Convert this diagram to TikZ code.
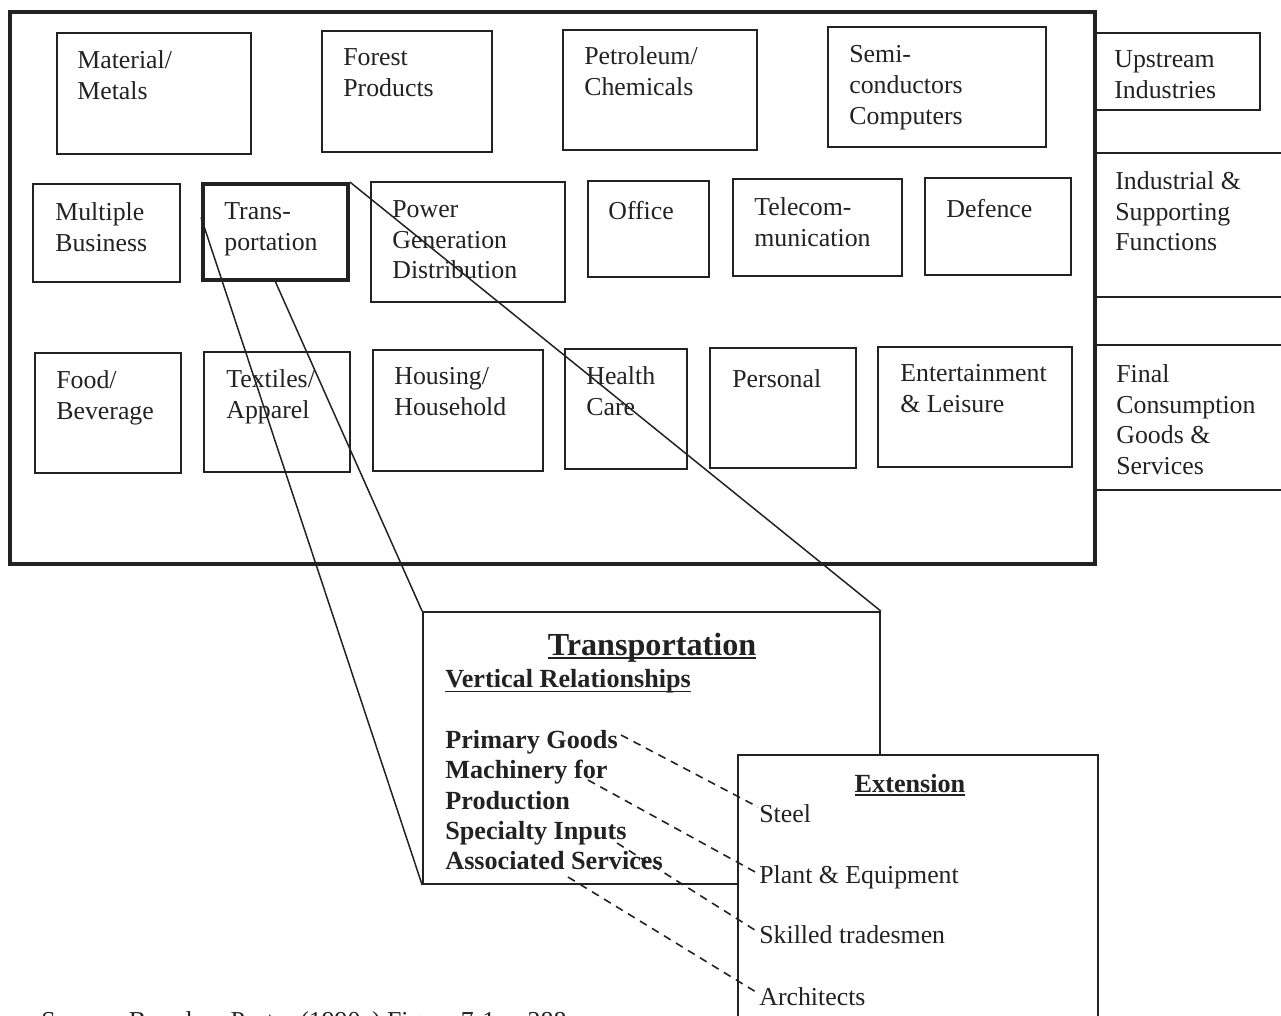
\documentclass[tikz,border=0pt]{standalone}
\usepackage{fontspec}
\setmainfont{Liberation Serif}
\usetikzlibrary{fit,calc}
\definecolor{ink}{RGB}{34,34,34}
% underline at a fixed depth below the baseline: #1 depth, #2 thickness, #3 text
\newcommand\undertext[3]{\setbox0\hbox{#3}\rlap{\rule[-#1]{\wd0}{#2}}\box0}
% multi-line label whose first baseline sits at (#2,#3)
\newcommand\lab[4]{\node[lbl] (#1) at ({#2},{#3-17.5}) {#4};}

\begin{document}
\begin{tikzpicture}[x=0.02cm,y=-0.02cm,
  sbox/.style={draw=ink,line width=1pt,inner sep=0pt},
  framebox/.style={draw=ink,line width=1.9pt,inner sep=0pt},
  lbl/.style={anchor=north west,inner sep=0pt,align=left,text=ink,
    font=\fontsize{14.7}{17.4}\selectfont,execute at begin node=\strut},
  blbl/.style={anchor=base west,inner sep=0pt,text=ink,
    font=\bfseries\fontsize{14.9}{17.2}\selectfont},
  elbl/.style={anchor=base west,inner sep=0pt,text=ink,
    font=\fontsize{14.7}{17.4}\selectfont},
  zoomline/.style={draw=ink,line width=0.85pt},
  link/.style={draw=ink,line width=0.9pt,dash pattern=on 4.5pt off 3.5pt}]

\useasboundingbox (0,0) rectangle (1281,1015);
\clip (0,0) rectangle (1281,1015);

% ---- level column on the right
\node[sbox,fit={(1094,33) (1260,110)}] (up) {};
\node[sbox,fit={(1094,153) (1330,297)}] (ind) {};
\node[sbox,fit={(1094,345) (1330,490)}] (fin) {};
\lab{upT}{1114}{68}{Upstream\\Industries}
\lab{indT}{1115}{189}{Industrial \&\\Supporting\\Functions}
\lab{finT}{1116}{382}{Final\\Consumption\\Goods \&\\Services}

% ---- cluster frame
\node[framebox,fit={(10,12) (1095,564)}] (frame) {};

% upstream industries
\node[sbox,fit={(57,33) (251,154)}] (mat) {};
\node[sbox,fit={(322,31) (492,152)}] (forest) {};
\node[sbox,fit={(563,30) (757,150)}] (petro) {};
\node[sbox,fit={(828,27) (1046,147)}] (semi) {};
\lab{matT}{77}{68}{Material/\\Metals}
\lab{forestT}{343}{66}{Forest\\Products}
\lab{petroT}{584}{64}{Petroleum/\\Chemicals}
\lab{semiT}{849}{63}{Semi-\\conductors\\Computers}

% industrial and supporting functions
\node[sbox,fit={(33,184) (180,282)}] (multi) {};
\node[draw=ink,line width=2.2pt,inner sep=0pt,fit={(203,184) (348,280)}] (trans) {};
\node[sbox,fit={(371,182) (565,302)}] (power) {};
\node[sbox,fit={(588,181) (709,277)}] (office) {};
\node[sbox,fit={(733,179) (902,276)}] (tele) {};
\node[sbox,fit={(925,178) (1071,275)}] (defence) {};
\lab{multiT}{55}{220}{Multiple\\Business}
\lab{transT}{224}{220}{Trans-\\portation}
\lab{powerT}{392}{218}{Power\\Generation\\Distribution}
\lab{officeT}{608}{215}{Office}
\lab{teleT}{754}{215}{Telecom-\\munication}
\lab{defenceT}{946}{213}{Defence}

% final consumption goods and services
\node[sbox,fit={(35,353) (181,473)}] (food) {};
\node[sbox,fit={(204,352) (350,472)}] (textile) {};
\node[sbox,fit={(373,350) (543,471)}] (house) {};
\node[sbox,fit={(565,349) (687,469)}] (health) {};
\node[sbox,fit={(710,348) (856,468)}] (personal) {};
\node[sbox,fit={(878,347) (1072,467)}] (enter) {};
\lab{foodT}{56}{388}{Food/\\Beverage}
\lab{textileT}{226}{387}{Textiles/\\Apparel}
\lab{houseT}{394}{385}{Housing/\\Household}
\lab{healthT}{586}{384}{Health\\Care}
\lab{personalT}{732}{383}{Personal}
\lab{enterT}{900}{382}{Entertainment\\\& Leisure}

% ---- enlarged view of the transportation cluster
\node[sbox,fit={(423,612) (880,884)}] (trd) {};
\draw[zoomline] ($(trans.north west)!0.354!(trans.south west)$) -- (trd.south west);
\draw[zoomline] (trans.south) -- (trd.north west);
\draw[zoomline] (trans.north east) -- (trd.north east);

\node[anchor=base,inner sep=0pt,text=ink,font=\bfseries\fontsize{18.3}{21}\selectfont]
  (trdT) at (652,655) {\undertext{2.5pt}{1.1pt}{Transportation}};
\node[blbl] (vert) at (445,687) {\undertext{3pt}{1pt}{Vertical Relationships}};
\node[blbl] (prim) at (445,748) {Primary Goods};
\node[blbl] (mach) at (445,778) {Machinery for};
\node[blbl] (prod) at (445,809) {Production};
\node[blbl] (spec) at (445,839) {Specialty Inputs};
\node[blbl] (assoc) at (445,869) {Associated Services};

% ---- extension box
\node[sbox,fill=white,fit={(738,755) (1098,1100)}] (ext) {};
\node[anchor=base,inner sep=0pt,text=ink,font=\bfseries\fontsize{14.9}{17.2}\selectfont]
  (extT) at (910,792) {\undertext{2pt}{1pt}{Extension}};
\node[elbl] (steel) at (759,822) {Steel};
\node[elbl] (plant) at (759,883) {Plant \& Equipment};
\node[elbl] (skill) at (759,943) {Skilled tradesmen};
\node[elbl] (arch) at (759,1005) {Architects};

% dashed links from inputs to their extensions
\coordinate (primE) at ($(prim.base east)+(3,-13)$);
\coordinate (machE) at ($(mach.base west)+(143,2)$);
\coordinate (specE) at ($(spec.base west)+(172,4)$);
\coordinate (assocE) at ($(assoc.base west)+(123,8)$);
\draw[link] (primE) -- ($(steel.base west)+(-1,-15)$);
\draw[link] (machE) -- ($(plant.base west)+(-2,-10)$);
\draw[link] (specE) -- ($(skill.base west)+(-1,-11)$);
\draw[link] (assocE) -- ($(arch.base west)+(-3,-13)$);

% ---- source note
\node[elbl] (src) at (41,1029) {Source: Based on Porter (1990a) Figure 7-1, p.288};
\end{tikzpicture}
\end{document}
